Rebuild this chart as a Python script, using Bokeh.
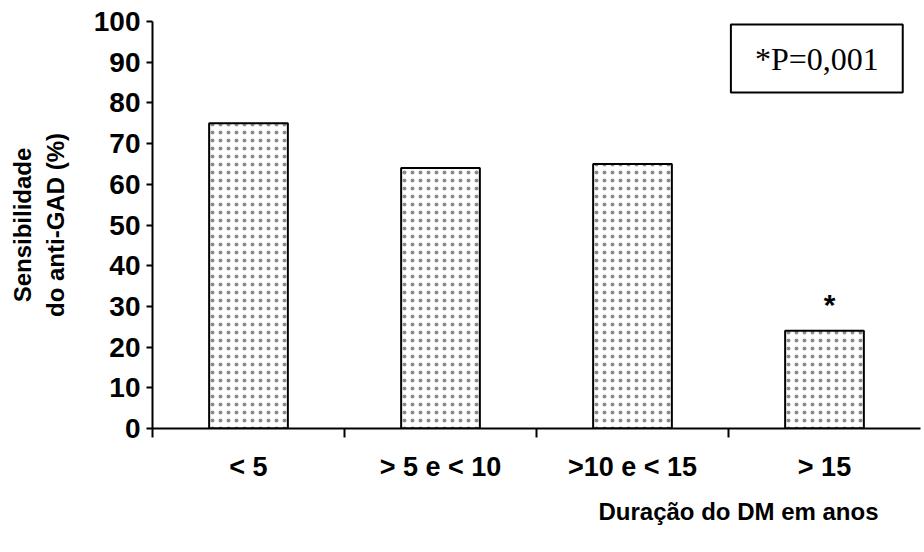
from bokeh.plotting import figure
from bokeh.models import Range1d, FixedTicker, Label, ColumnDataSource, Title
from bokeh.core.properties import value
from bokeh.embed import file_html
from bokeh.resources import INLINE

categories = ["< 5", "> 5 e < 10", ">10 e < 15", "> 15"]
sensitivity = [75, 64, 65, 24]
significant = [False, False, False, True]
y_ticks = [0, 10, 20, 30, 40, 50, 60, 70, 80, 90, 100]

x_pos = [i + 0.5 for i in range(len(categories))]
source = ColumnDataSource(dict(x=x_pos, top=sensitivity, cat=categories))

p = figure(width=924, height=552, output_backend="svg", toolbar_location=None,
           x_range=Range1d(0, len(categories)), y_range=Range1d(0, 100),
           min_border_left=152, min_border_right=4, min_border_top=21, min_border_bottom=124)
p.outline_line_color = None
p.xgrid.visible = False
p.ygrid.visible = False
p.background_fill_color = "white"
p.border_fill_color = "white"

p.vbar(x="x", top="top", width=0.41, source=source, fill_color="white",
       line_color="black", line_width=2, hatch_pattern="dot", hatch_scale=8,
       hatch_weight=0.9, hatch_color="#8c8c8c")

star_x = [x for x, s in zip(x_pos, significant) if s]
star_y = [v + 6.5 for v, s in zip(sensitivity, significant) if s]
p.text(x=star_x, y=star_y, text=["*"] * len(star_x), text_align="center",
       text_baseline="alphabetic", text_font=value("Liberation Sans"),
       text_font_size="30px", text_font_style="bold", text_color="black", x_offset=5)

# x axis
xa = p.xaxis[0]
xa.ticker = FixedTicker(ticks=x_pos, minor_ticks=list(range(len(categories))))
xa.major_label_overrides = {x: c for x, c in zip(x_pos, categories)}
xa.major_tick_out = 0
xa.major_tick_in = 0
xa.minor_tick_out = 9
xa.minor_tick_in = 0
xa.minor_tick_line_width = 2
xa.minor_tick_line_color = "black"
xa.axis_line_width = 2
xa.axis_line_color = "black"
xa.major_label_text_font = "Liberation Sans"
xa.major_label_text_font_style = "bold"
xa.major_label_text_font_size = "27px"
xa.major_label_text_color = "black"
xa.major_label_standoff = 14

# y axis
ya = p.yaxis[0]
ya.ticker = FixedTicker(ticks=y_ticks)
ya.minor_tick_line_color = None
ya.major_tick_out = 6
ya.major_tick_in = 0
ya.major_tick_line_width = 2
ya.major_tick_line_color = "black"
ya.axis_line_width = 2
ya.axis_line_color = "black"
ya.major_label_text_font = "Liberation Sans"
ya.major_label_text_font_style = "bold"
ya.major_label_text_font_size = "28px"
ya.major_label_text_color = "black"
ya.major_label_standoff = 6
ya.axis_label = "Sensibilidade\ndo anti-GAD (%)"
ya.axis_label_text_font = "Liberation Sans"
ya.axis_label_text_font_style = "bold"
ya.axis_label_text_font_size = "24px"
ya.axis_label_text_color = "black"
ya.axis_label_standoff = 22

p.add_layout(Title(text="Duração do DM em anos", align="right", offset=42,
                   standoff=22, text_font="Liberation Sans", text_font_style="bold",
                   text_font_size="24px", text_color="black"), "below")

p.add_layout(Label(x=3.46, y=90.9, text="*P=0,001", text_align="center",
                   text_baseline="middle", text_font="Liberation Serif",
                   text_font_size="32px", text_color="black",
                   background_fill_color="white", border_line_color="black",
                   border_line_width=2, padding=(24, 16)))

open("out.html", "w").write(file_html(p, INLINE))
